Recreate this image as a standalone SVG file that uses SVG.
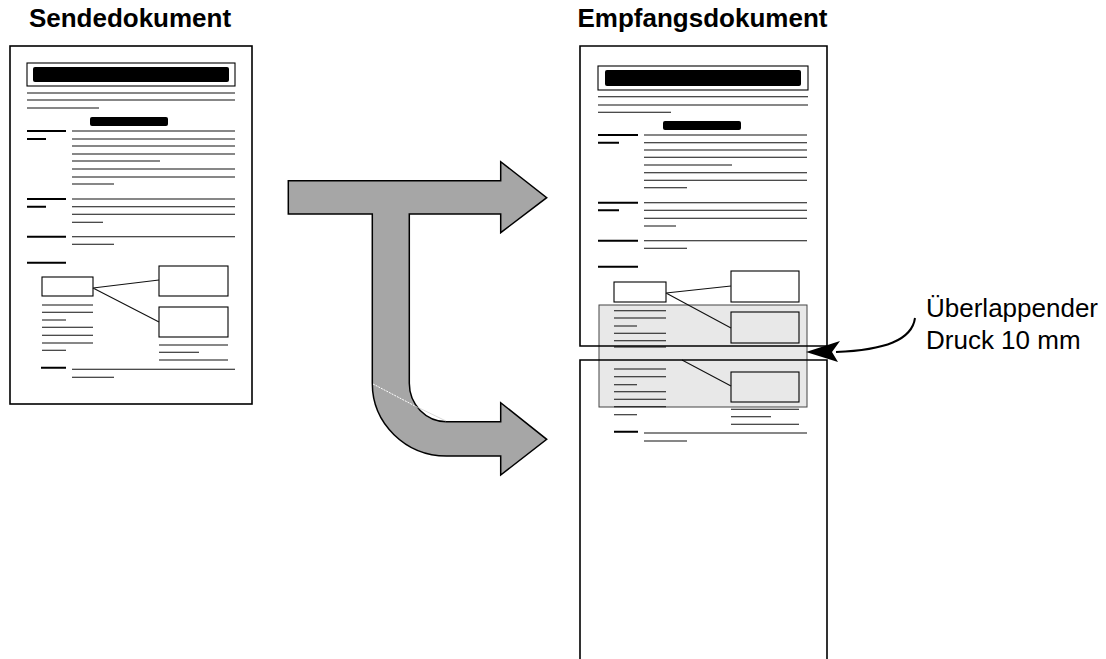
<svg xmlns="http://www.w3.org/2000/svg" width="1106" height="659" viewBox="0 0 1106 659">
<style>
.title{font-family:"Liberation Sans",Arial,sans-serif;font-weight:bold;font-size:26px;fill:#000}
.label{font-family:"Liberation Sans",Arial,sans-serif;font-size:26px;fill:#000}
.page{fill:none;stroke:#000;stroke-width:1.6}
.ln{stroke:#111;stroke-width:1.1;fill:none}
.th{stroke:#000;stroke-width:2;fill:none}
.box{fill:#fff;stroke:#000;stroke-width:1.1}
.gbox{fill:#e8e8e8;stroke:#000;stroke-width:1.1}
.bar{fill:#000}
</style>
<rect x="0" y="0" width="1106" height="659" fill="#fff"/>
<text class="title" x="130" y="27" text-anchor="middle">Sendedokument</text>
<text class="title" x="702.5" y="27" text-anchor="middle">Empfangsdokument</text>

<g id="send-doc">
<rect x="10" y="46" width="242" height="358" fill="#fff" class="page"/>
<rect x="27" y="63" width="208" height="23" class="box"/>
<rect x="33" y="67" width="196" height="15" rx="2" class="bar"/>
<path class="ln" d="M27,93H235M27,100H235M27,108H99"/>
<rect x="90" y="117" width="78" height="9" rx="2" class="bar"/>
<path class="th" d="M27,131H66M27,139H46M27,199H66M27,206.7H46M27,236.7H66M27,262.7H66M41,367.7H66"/>
<path class="ln" d="M72,131H235M72,139H235M72,146H235M72,154H235M72,161H160M72,169H235M72,177H235M72,184H114M72,199H235M72,206.7H235M72,214.3H235M72,222.3H103M72,236.7H235M72,244.3H114"/>
<rect x="42" y="277" width="51" height="19" class="box"/>
<rect x="159" y="266" width="69" height="30" class="box"/>
<rect x="159" y="307" width="69" height="30" class="box"/>
<path class="ln" d="M93,288L159,280M93,288L159,322"/>
<path class="ln" d="M42,305H93M42,312.3H93M42,320H66M42,327.3H93M42,335.3H93M42,343H93M42,350.3H66M159,345H228M159,352.3H199M159,360H228M72,369.3H235M72,377.3H114"/>
</g>

<g id="arrow">
<path d="M288.3,180.7H500.7V161.7L546.7,197.7L500.7,232.7V214H409.3V383.3A37.2,38.4 0 0 0 446.5,421.7H500.7V402.7L546.7,439.3L500.7,475V456H446.5A74.2,72.7 0 0 1 372.3,383.3V214H288.3Z" fill="#a6a6a6" stroke="#000" stroke-width="1.5" stroke-linejoin="miter"/>
<path d="M373,384L415,406" stroke="#fff" stroke-width="1" stroke-dasharray="2,1" fill="none"/>
<path d="M415,406L446,421" stroke="#d0d0d0" stroke-width="0.8" fill="none"/>
</g>

<g id="recv-doc">
<rect x="580" y="46" width="247" height="300" fill="#fff"/>
<rect x="580" y="360" width="247" height="320" fill="#fff"/>
<rect x="598" y="66" width="210" height="24" class="box"/>
<rect x="605" y="70" width="196" height="16" rx="2" class="bar"/>
<path class="ln" d="M598,96.7H808M598,105H808M598,112.3H671"/>
<rect x="663" y="121" width="78" height="9" rx="2" class="bar"/>
<path class="th" d="M598,135H638M598,142.7H619M598,202.7H638M598,210.3H619M598,240.7H638M598,266.7H638M614,431.7H638"/>
<path class="ln" d="M644,135H807M644,142.7H807M644,150H807M644,157.3H807M644,165H732M644,172.7H807M644,180.3H807M644,187.7H687M644,202.7H807M644,210.3H807M644,218.3H807M644,226H676M644,240.7H807M644,248.3H687"/>
<rect x="614" y="282" width="52" height="20" class="box"/>
<rect x="731" y="271" width="68" height="31" class="box"/>
<rect id="overlap" x="599" y="305" width="208" height="102" fill="#e8e8e8" stroke="#444" stroke-width="1"/>
<rect x="731" y="312" width="68" height="31" class="gbox"/>
<rect x="731" y="372" width="68" height="30" class="gbox"/>
<path class="ln" d="M666,293L731,286M666,293L731,328M682,360L731,386"/>
<path class="ln" d="M614,310.7H666M614,318H666M614,326H637M614,333.3H666M614,340.7H666M614,347H666M614,369H666M614,376.7H666M614,384.7H637M614,391.7H666M614,399.3H666M614,406.7H666M614,414.7H637M731,409.3H799M731,416.7H771M731,424.3H799M644,433H807M644,441H687"/>
<path class="page" d="M580,346V46H827V346ZM580,680V360H827V680"/>
</g>

<g id="overlap-label">
<text class="label" x="926" y="317">Überlappender</text>
<text class="label" x="926" y="349">Druck 10 mm</text>
<path d="M915,318C912,340 885,350 836,352" stroke="#000" stroke-width="2" fill="none"/>
<polygon points="806,352 840,341 832,352 838,362" fill="#000"/>
</g>
</svg>
